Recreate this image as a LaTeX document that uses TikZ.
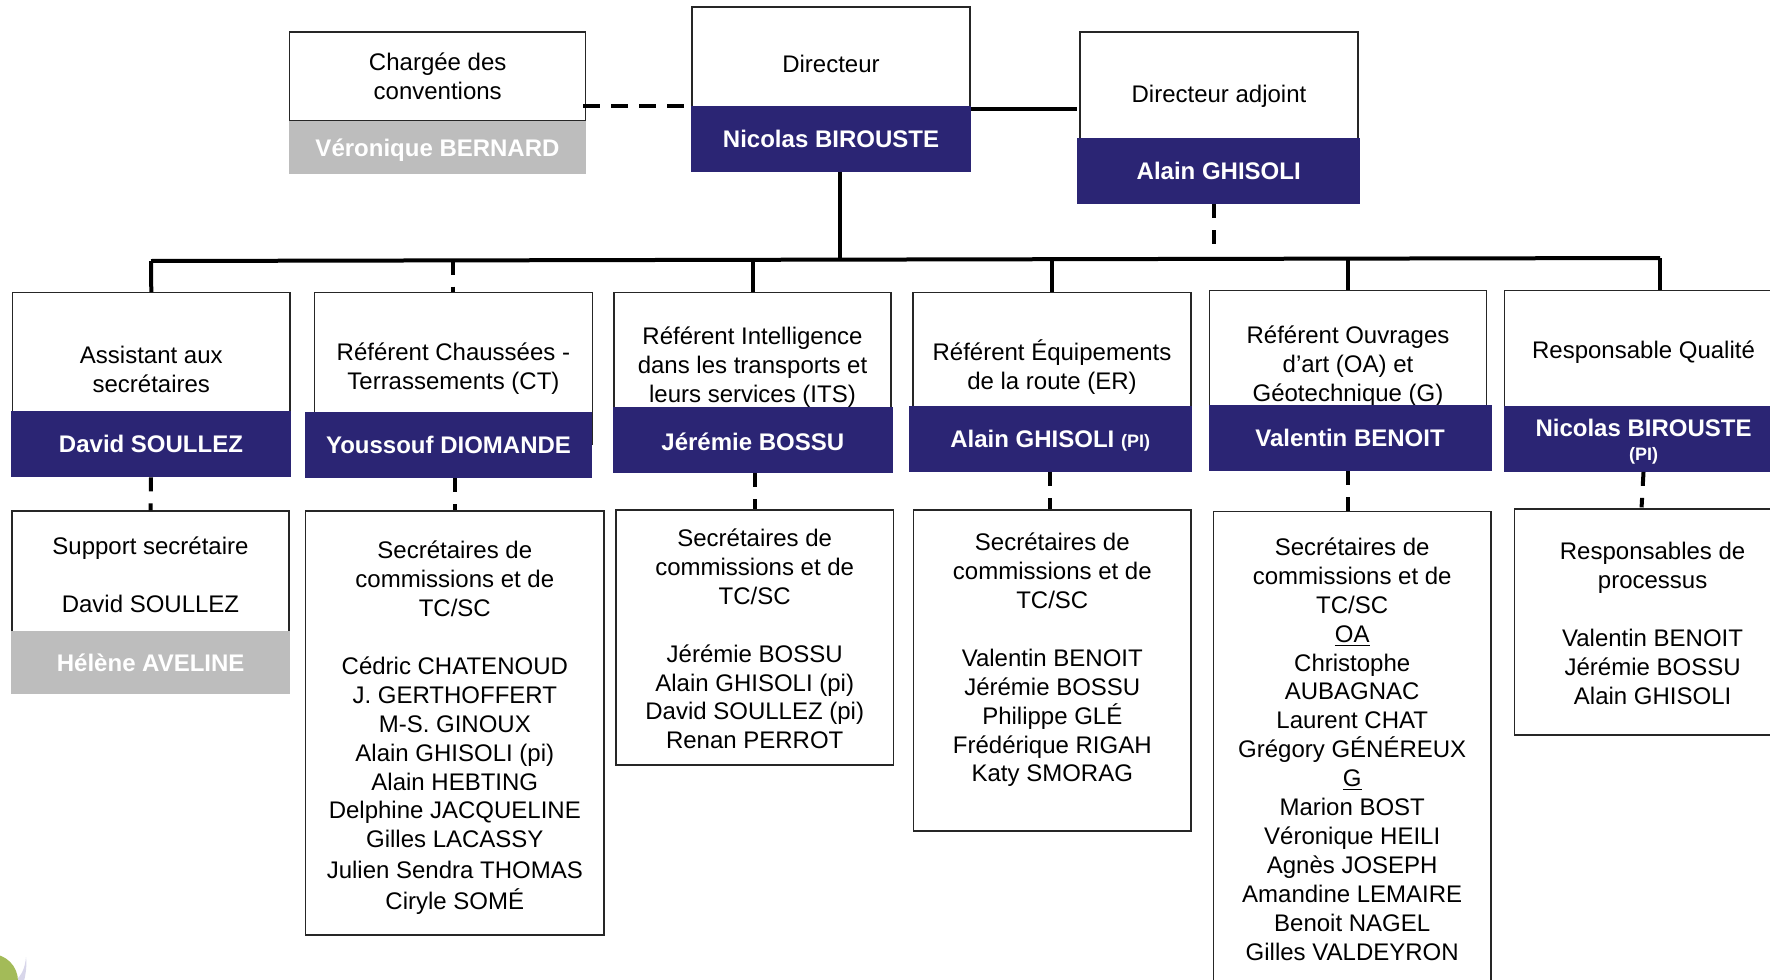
\documentclass[tikz,border=0pt]{standalone}
\usepackage{fontspec}
\setmainfont{Liberation Sans}
\usepackage{tikz}
\definecolor{navy}{RGB}{43,37,116}
\definecolor{lightgrey}{RGB}{189,189,189}
\definecolor{ballgreen}{RGB}{163,187,88}
\definecolor{ballshade}{RGB}{216,214,234}

\begin{document}
\begin{tikzpicture}[x=0.5pt, y=-0.5pt,
  textbox/.style = {draw=black!85, line width=0.6pt, fill=white, inner sep=0pt, align=center, font=\fontsize{12}{14.45}\selectfont},
  navybox/.style = {fill=navy, text=white, inner sep=0pt, align=center, text height=8.6pt, text depth=0pt, font=\fontsize{12}{14.45}\selectfont\bfseries},
  greybox/.style = {fill=lightgrey, text=white, inner sep=0pt, align=center, text height=8.6pt, text depth=0pt, font=\fontsize{12}{14.45}\selectfont\bfseries},
  link/.style = {draw=black, line width=2pt},
  dashlink/.style = {draw=black, line width=2pt, dash pattern=on 7pt off 6pt}]
        \path[use as bounding box, clip] (0,0) rectangle (1770,979);
        \fill[ballshade] (26,957) .. controls (25,968) and (22,975) .. (15,981) -- (24,981) .. controls (26,973) and (27,965) .. (26,957);
        \fill[ballgreen] (-9,981) circle (13.5pt);

        \node[textbox, minimum width=148pt, minimum height=44.5pt] (chargee) at (437.7,76.5) {Chargée des\\conventions};
        \node[textbox, minimum width=139pt, minimum height=56.5pt] (directeur) at (831,63.5) {Directeur};
        \node[textbox, minimum width=139pt, minimum height=64.5pt] (adjoint) at (1219,96.5) {Directeur adjoint};
        \node[textbox, minimum width=138.7pt, minimum height=76.3pt] (assistant) at (151.3,369) {Assistant aux\\secrétaires};
        \node[textbox, minimum width=138.7pt, minimum height=75.9pt] (chaussees) at (453.4,368.4) {Référent Chaussées -\\Terrassements (CT)};
        \node[textbox, minimum width=138.5pt, minimum height=74.7pt] (intelligence) at (752.5,367.4) {Référent Intelligence\\dans les transports et\\leurs services (ITS)};
        \node[textbox, minimum width=139pt, minimum height=74.1pt] (equipements) at (1052,366.8) {Référent Équipements\\de la route (ER)};
        \node[textbox, minimum width=138.8pt, minimum height=75.6pt] (ouvrages) at (1348,366.3) {Référent Ouvrages\\d’art (OA) et\\Géotechnique (G)};
        \node[textbox, minimum width=139pt, minimum height=61.6pt] (qualite) at (1643.5,352.3) {Responsable Qualité};

        \node[navybox, minimum width=140pt, minimum height=33pt] (birouste) at (831,139) {Nicolas BIROUSTE};
        \node[navybox, minimum width=141.3pt, minimum height=33pt] (ghisoli) at (1218.7,171) {Alain GHISOLI};
        \node[navybox, minimum width=140pt, minimum height=33pt] (soullez) at (151,444) {David SOULLEZ};
        \node[navybox, minimum width=143.5pt, minimum height=33pt] (diomande) at (448.5,444.7) {Youssouf DIOMANDE};
        \node[navybox, minimum width=139.8pt, minimum height=33pt, text height=10pt] (bossu) at (752.8,440) {Jérémie BOSSU};
        \node[navybox, minimum width=141.3pt, minimum height=33pt] (ghisolipi) at (1050.2,438.7) {Alain GHISOLI {\fontsize{9}{10}\selectfont (PI)}};
        \node[navybox, minimum width=141.5pt, minimum height=33pt] (benoit) at (1350,438) {Valentin BENOIT};
        \node[navybox, minimum width=139.5pt, minimum height=33pt, text height=, text depth=] (biroustepi) at (1643.5,438.5) {\rule{0pt}{11.9pt}Nicolas BIROUSTE\\[-2.8pt]{\fontsize{9}{10}\selectfont (PI)}};
        \node[greybox, minimum width=148.5pt, minimum height=26.5pt] (bernard) at (437.5,147.5) {Véronique BERNARD};

        \node[textbox, minimum width=138.5pt, minimum height=64pt] (support) at (150.5,575) {Support secrétaire\\[14.45pt]David SOULLEZ};
        \node[greybox, minimum width=139.5pt, minimum height=31.5pt] (aveline) at (150.7,662.5) {Hélène AVELINE};
        \node[textbox, minimum width=149.2pt, minimum height=212pt] (secretaires2) at (454.8,723) {\rule{0pt}{13.9pt}Secrétaires de\\commissions et de\\TC/SC\\[14.45pt]Cédric CHATENOUD\\J. GERTHOFFERT\\M-S. GINOUX\\Alain GHISOLI (pi)\\Alain HEBTING\\Delphine JACQUELINE\\Gilles LACASSY\\[0.8pt]Julien Sendra THOMAS\\[1.35pt]Ciryle SOMÉ};
        \node[textbox, minimum width=138.7pt, minimum height=127.5pt] (secretaires3) at (754.7,637.5) {\rule{0pt}{10.3pt}Secrétaires de\\commissions et de\\TC/SC\\[14.45pt]Jérémie BOSSU\\Alain GHISOLI (pi)\\David SOULLEZ (pi)\\Renan PERROT};
        \node[textbox, minimum width=138.7pt, minimum height=160.5pt] (secretaires4) at (1052.3,670.5) {\rule{0pt}{10.3pt}Secrétaires de\\commissions et de\\TC/SC\\[14.45pt]Valentin BENOIT\\Jérémie BOSSU\\Philippe GLÉ\\Frédérique RIGAH\\Katy SMORAG\\ ~};
        \node[textbox, minimum width=138.7pt, minimum height=237.5pt] (secretaires5) at (1352.2,749) {Secrétaires de\\commissions et de\\TC/SC\\\underline{OA}\\Christophe\\AUBAGNAC\\Laurent CHAT\\Grégory GÉNÉREUX\\\underline{G}\\Marion BOST\\Véronique HEILI\\Agnès JOSEPH\\Amandine LEMAIRE\\Benoit NAGEL\\Gilles VALDEYRON};
        \node[textbox, minimum width=137.8pt, minimum height=113pt] (processus) at (1652.6,622) {\rule{0pt}{10.3pt}Responsables de\\processus\\[14.45pt]Valentin BENOIT\\Jérémie BOSSU\\Alain GHISOLI};

        \coordinate (trunk) at (840,260);
        \coordinate (bus1) at (151,261);
        \coordinate (bus2) at (453.4,260.5);
        \coordinate (bus3) at (752.5,260);
        \coordinate (bus4) at (1052,259.5);
        \coordinate (bus5) at (1348,259);
        \coordinate (bus6) at (1660,258);
        \coordinate (adjlink) at (1077,109);
        \coordinate (adjend) at (1214,244);
        \coordinate (convlink) at (583,106);

        \draw[link] (bus1) -- (bus6);
        \draw[link] (trunk |- birouste.south) -- (trunk);
        \draw[link] (adjlink -| birouste.east) -- (adjlink);
        \draw[link] (bus1) -- (assistant.north);
        \draw[link] (bus3) -- (intelligence.north);
        \draw[link] (bus4) -- (equipements.north);
        \draw[link] (bus5) -- (ouvrages.north);
        \draw[link] (bus6) -- (bus6 |- qualite.north);
        \draw[dashlink, dash pattern=on 8.5pt off 5.5pt, shorten >=3.5pt] (convlink) -- (convlink -| birouste.west);
        \draw[dashlink] (adjend |- ghisoli.south) -- (adjend);
        \draw[dashlink] (bus2) -- (chaussees.north);
        \draw[dashlink] (soullez.south) -- (support.north);
        \draw[dashlink] (secretaires2.north |- diomande.south) -- (secretaires2.north);
        \draw[dashlink] (secretaires3.north |- bossu.south) -- (secretaires3.north);
        \draw[dashlink] (ghisolipi.south) -- (ghisolipi.south |- secretaires4.north);
        \draw[dashlink] (ouvrages.north |- benoit.south) -- (ouvrages.north |- secretaires5.north);
        \draw[dashlink, shorten >=0.5pt] (biroustepi.south) -- ([xshift=-1pt]biroustepi.south |- processus.north);
\end{tikzpicture}
\end{document}
